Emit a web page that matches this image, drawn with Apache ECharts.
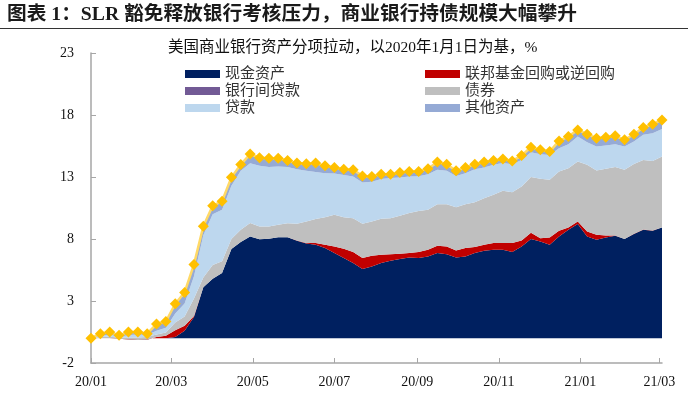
<!DOCTYPE html>
<html>
<head>
<meta charset="utf-8">
<script src="https://cdn.jsdelivr.net/npm/echarts@6/dist/echarts.min.js"></script>
<style>
  html, body { margin: 0; padding: 0; background: #fff; }
  #chart { width: 688px; height: 396px; }
</style>
</head>
<body>
<div id="chart"></div>
<script>
// weekly H.8 dates (Wednesdays)
const dates = [
  '2020-01-01', '2020-01-08', '2020-01-15', '2020-01-22', '2020-01-29', '2020-02-05', '2020-02-12', '2020-02-19',
  '2020-02-26', '2020-03-04', '2020-03-11', '2020-03-18', '2020-03-25', '2020-04-01', '2020-04-08', '2020-04-15',
  '2020-04-22', '2020-04-29', '2020-05-06', '2020-05-13', '2020-05-20', '2020-05-27', '2020-06-03', '2020-06-10',
  '2020-06-17', '2020-06-24', '2020-07-01', '2020-07-08', '2020-07-15', '2020-07-22', '2020-07-29', '2020-08-05',
  '2020-08-12', '2020-08-19', '2020-08-26', '2020-09-02', '2020-09-09', '2020-09-16', '2020-09-23', '2020-09-30',
  '2020-10-07', '2020-10-14', '2020-10-21', '2020-10-28', '2020-11-04', '2020-11-11', '2020-11-18', '2020-11-25',
  '2020-12-02', '2020-12-09', '2020-12-16', '2020-12-23', '2020-12-30', '2021-01-06', '2021-01-13', '2021-01-20',
  '2021-01-27', '2021-02-03', '2021-02-10', '2021-02-17', '2021-02-24', '2021-03-03'
];
const tickDates = ['2020-01-01', '2020-03-01', '2020-05-01', '2020-07-01', '2020-09-01', '2020-11-01', '2021-01-01', '2021-03-01'];

// 现金资产
const cash = [0, 0, 0, 0, 0, 0, 0, 0, 0, 0.1, 0.6, 1.7, 4.1, 4.8, 5.25, 7.2, 7.75, 8.2, 7.97, 8.02,
  8.15, 8.15, 7.86, 7.63, 7.53, 7.27, 6.87, 6.46, 6.06, 5.58, 5.79, 6.06, 6.25, 6.38, 6.51, 6.46, 6.59, 6.87, 6.78, 6.51,
  6.59, 6.87, 7.05, 7.13, 7.13, 6.95, 7.4, 8.0, 7.8, 7.53, 8.2, 8.74, 9.2, 8.2, 7.94, 8.12, 8.26, 7.99, 8.4, 8.74,
  8.66, 8.93];
// 联邦基金回购或逆回购
const repo = [0, 0, 0, -0.05, -0.1, -0.15, -0.12, 0.1, 0.2, 0.55, 0.4, 0.1, 0, 0, 0, 0, 0, 0, 0, 0,
  0, 0, 0.02, 0.05, 0.14, 0.26, 0.53, 0.75, 0.89, 0.88, 0.86, 0.67, 0.53, 0.43, 0.36, 0.5, 0.54, 0.58, 0.62, 0.57,
  0.68, 0.48, 0.48, 0.54, 0.54, 0.72, 0.48, 0.5, 0.27, 0.59, 0.46, 0.19, 0.21, 0.41, 0.4, 0.16, 0.02, 0.02, 0.02, 0.02,
  0.02, 0.02];
// 银行间贷款
const interbank = [0, 0, 0, 0, 0, 0, 0, 0, 0, 0, 0, 0, 0, 0, 0, 0, 0, 0, 0, 0,
  0, 0, 0, 0, 0, 0, 0, 0, 0, 0, 0, 0, 0, 0, 0, 0, 0, 0, 0, 0,
  0, 0, 0, 0, 0, 0, 0, 0, 0, 0, 0, 0, 0, 0, 0, 0, 0, 0, 0, 0,
  0, 0];
// 债券
const bonds = [0, 0.1, 0.12, 0.1, 0.15, 0.2, 0.22, 0.2, 0.25, 0.62, 0.76, 1.4, 0.8, 1.1, 0.95, 0.8, 0.99, 1.1, 1.04, 0.99,
  1.0, 1.13, 1.35, 1.73, 1.95, 2.23, 2.55, 2.55, 2.73, 2.77, 2.76, 2.9, 2.9, 3.06, 3.22, 3.29, 3.22, 3.36, 3.41, 3.49,
  3.54, 3.62, 3.76, 3.89, 4.22, 4.11, 4.35, 4.5, 4.78, 4.65, 4.78, 4.78, 4.84, 5.37, 5.18, 5.38, 5.52, 5.57, 5.62, 5.62,
  5.62, 5.7];
// 贷款
const loans = [0, 0.1, 0.18, 0.05, 0.2, 0.25, 0.15, 0.3, 0.4, 0.73, 1.04, 1.8, 3.4, 4.1, 4.15, 4.3, 4.76, 4.8, 4.89, 4.79,
  4.69, 4.52, 4.4, 4.09, 3.78, 3.55, 3.33, 3.41, 3.36, 3.33, 3.21, 3.2, 3.23, 3.09, 2.95, 2.82, 2.88, 2.77, 2.69, 2.52,
  2.5, 2.66, 2.47, 2.42, 2.23, 2.25, 2.15, 2.0, 1.99, 2.01, 1.88, 1.94, 2.01, 1.83, 1.93, 1.88, 1.85, 1.87, 1.82, 2.02,
  2.23, 2.23];
// 其他资产
const others = [0, 0.16, 0.2, 0.13, 0.25, 0.2, 0.11, 0.54, 0.5, 0.78, 0.89, 0.95, 0.73, 0.68, 0.7, 0.67, 0.5, 0.75, 0.65, 0.72,
  0.68, 0.53, 0.49, 0.57, 0.72, 0.59, 0.48, 0.46, 0.54, 0.53, 0.42, 0.4, 0.32, 0.4, 0.4, 0.38, 0.43, 0.62, 0.53, 0.41,
  0.45, 0.4, 0.44, 0.35, 0.34, 0.27, 0.35, 0.4, 0.35, 0.27, 0.59, 0.61, 0.54, 0.64, 0.68, 0.67, 0.67, 0.55, 0.59, 0.59,
  0.73, 0.72];
// 总资产拉动
const total = [0, 0.36, 0.5, 0.23, 0.5, 0.5, 0.36, 1.14, 1.35, 2.78, 3.69, 5.95, 9.03, 10.68, 11.05, 12.97, 14.0, 14.85, 14.55, 14.52,
  14.52, 14.33, 14.12, 14.07, 14.12, 13.9, 13.76, 13.63, 13.58, 13.09, 13.04, 13.23, 13.23, 13.36, 13.44, 13.45, 13.66, 14.2, 14.03, 13.5,
  13.76, 14.03, 14.2, 14.33, 14.46, 14.3, 14.73, 15.4, 15.19, 15.05, 15.91, 16.26, 16.8, 16.45, 16.13, 16.21, 16.32, 16.0, 16.45, 16.99,
  17.26, 17.6];

const FONT = '"Liberation Serif", "Noto Sans CJK SC", serif';
const AXIS_GRAY = '#A6A6A6';

// timestamps (UTC midnight) shared by the hidden time axis and the visible label axis
const dayMs = dates.map(d => Date.parse(d));
const tickMs = tickDates.map(d => Date.parse(d));
const xMin = dayMs[0];
const xMax = dayMs[dayMs.length - 1];

function pairs(arr) {
  return arr.map((v, i) => [dayMs[i], v]);
}

function areaSeries(name, arr, color) {
  return {
    name: name,
    type: 'line',
    xAxisIndex: 0,
    stack: 'assets',
    stackStrategy: 'all',
    data: pairs(arr),
    symbol: 'none',
    lineStyle: { width: 0 },
    itemStyle: { color: color },
    areaStyle: { color: color, opacity: 1 },
    emphasis: { disabled: true },
    z: 2
  };
}

const legendText = { fontSize: 15, fontFamily: FONT, color: '#333', lineHeight: 16 };

const option = {
  animation: false,
  backgroundColor: '#fff',
  title: [{
    text: '图表 1：SLR 豁免释放银行考核压力，商业银行持债规模大幅攀升',
    left: 7,
    top: 5,
    padding: 0,
    textStyle: { fontSize: 19.7, fontWeight: 'bold', fontFamily: FONT, color: '#1a1a1a' }
  }, {
    text: '美国商业银行资产分项拉动，以2020年1月1日为基，%',
    left: 168,
    top: 40,
    padding: 0,
    textStyle: { fontSize: 15.5, fontWeight: 'normal', fontFamily: FONT, color: '#111' }
  }],
  graphic: [{
    type: 'line',
    shape: { x1: 0, y1: 28.5, x2: 688, y2: 28.5 },
    style: { stroke: '#333', lineWidth: 1.2 }
  }],
  legend: [{
    left: 185,
    top: 66,
    padding: 0,
    orient: 'vertical',
    icon: 'rect',
    itemWidth: 35,
    itemHeight: 8,
    itemGap: 1,
    data: ['现金资产', '银行间贷款', '贷款'],
    textStyle: legendText
  }, {
    left: 425,
    top: 66,
    padding: 0,
    orient: 'vertical',
    icon: 'rect',
    itemWidth: 35,
    itemHeight: 8,
    itemGap: 1,
    data: ['联邦基金回购或逆回购', '债券', '其他资产'],
    textStyle: legendText
  }],
  grid: { left: 91, right: 26, top: 53, bottom: 33, containLabel: false, outerBoundsMode: 'none' },
  xAxis: [{
    // carries the data
    type: 'time',
    show: false,
    min: xMin,
    max: xMax
  }, {
    // draws line, ticks and month labels over the same range
    type: 'value',
    position: 'bottom',
    min: xMin,
    max: xMax,
    axisLine: { onZero: true, lineStyle: { color: AXIS_GRAY, width: 1.5 } },
    axisTick: { show: true, inside: true, length: 5, customValues: tickMs, lineStyle: { color: AXIS_GRAY } },
    axisLabel: {
      customValues: tickMs,
      margin: 12,
      fontSize: 14,
      fontFamily: FONT,
      color: '#111',
      formatter: function (val) {
        const d = new Date(val);
        const m = d.getUTCMonth() + 1;
        return String(d.getUTCFullYear()).slice(2) + '/' + (m < 10 ? '0' + m : m);
      }
    },
    splitLine: { show: false }
  }],
  yAxis: {
    type: 'value',
    min: -2,
    max: 23,
    interval: 5,
    axisLine: { show: true, lineStyle: { color: AXIS_GRAY, width: 1.5 } },
    axisTick: { show: true, inside: true, length: 5, lineStyle: { color: AXIS_GRAY } },
    axisLabel: { margin: 17, fontSize: 14, fontFamily: FONT, color: '#111' },
    splitLine: { show: false }
  },
  series: [
    areaSeries('现金资产', cash, '#002060'),
    areaSeries('联邦基金回购或逆回购', repo, '#C00000'),
    areaSeries('银行间贷款', interbank, '#725A95'),
    areaSeries('债券', bonds, '#BFBFBF'),
    areaSeries('贷款', loans, '#BDD7EE'),
    areaSeries('其他资产', others, '#95AAD5'),
    {
      name: '总资产',
      type: 'line',
      xAxisIndex: 0,
      data: pairs(total),
      symbol: 'diamond',
      symbolSize: 11,
      showAllSymbol: true,
      lineStyle: { color: '#FFD966', width: 2.5 },
      itemStyle: { color: '#FFC000' },
      emphasis: { disabled: true },
      z: 5
    }
  ]
};

const chart = echarts.init(document.getElementById('chart'));
chart.setOption(option);
</script>
</body>
</html>
